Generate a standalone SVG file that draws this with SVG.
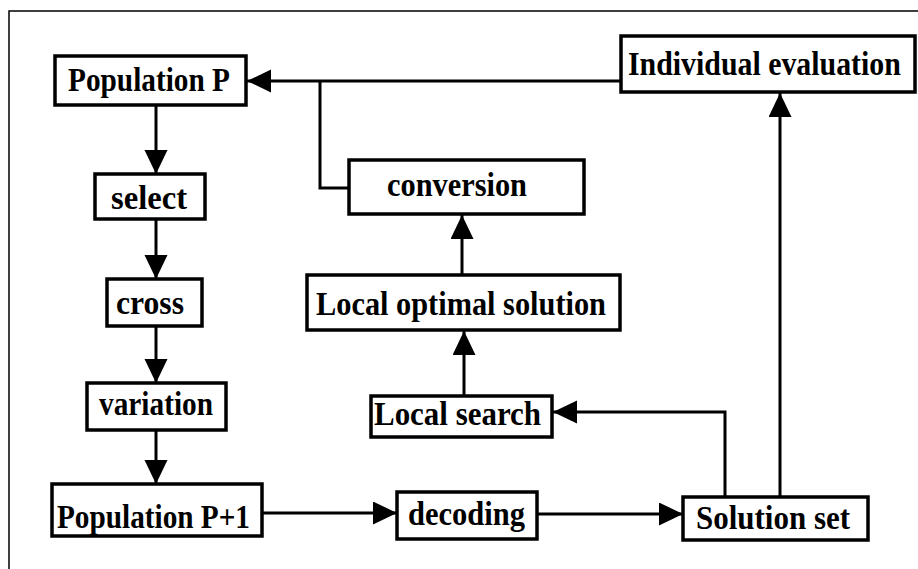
<svg xmlns="http://www.w3.org/2000/svg" width="918" height="569" viewBox="0 0 918 569">
  <style>
    .box { fill: #ffffff; stroke: #000000; stroke-width: 3.5; }
    .lbl { font-family: "Liberation Serif", "Times New Roman", serif; font-weight: bold; font-size: 34px; fill: #000000; }
    .edge { fill: none; stroke: #000000; stroke-width: 3; marker-end: url(#arrow); }
    .plain { fill: none; stroke: #000000; stroke-width: 3; }
    .frame { fill: none; stroke: #000000; stroke-width: 1.5; }
  </style>
  <defs>
    <marker id="arrow" markerUnits="userSpaceOnUse" markerWidth="26" markerHeight="24" refX="24" refY="11.5" orient="auto">
      <path d="M0,0 L24,11.5 L0,23 Z" fill="#000000"/>
    </marker>
  </defs>
  <rect width="918" height="569" fill="#ffffff"/>
  <path class="frame" d="M918,11 H9 V569"/>

  <g id="connectors">
    <path class="edge" d="M621,81 H247"/>
    <path class="plain" d="M320,81 V188 H349"/>
    <path class="edge" d="M156,105 V174"/>
    <path class="edge" d="M156,219 V279"/>
    <path class="edge" d="M156,326 V383"/>
    <path class="edge" d="M156,430 V484"/>
    <path class="edge" d="M262,513 H397"/>
    <path class="edge" d="M537,514 H683"/>
    <path class="edge" d="M725,497 V412 H553"/>
    <path class="edge" d="M780,497 V93"/>
    <path class="edge" d="M464,396 V331"/>
    <path class="edge" d="M462,275 V215"/>
  </g>

  <g id="population-p">
    <rect class="box" x="55" y="56" width="191" height="49"/>
    <text class="lbl" x="68" y="91" textLength="162" lengthAdjust="spacingAndGlyphs">Population P</text>
  </g>
  <g id="individual-evaluation">
    <rect class="box" x="621" y="36" width="294" height="56"/>
    <!-- condensed horizontally so the label fits inside its box -->
    <text class="lbl" transform="translate(628,75) scale(0.878,1)" x="0" y="0">Individual evaluation</text>
  </g>
  <g id="conversion">
    <rect class="box" x="349" y="160" width="235" height="54"/>
    <text class="lbl" x="387" y="196" textLength="140" lengthAdjust="spacingAndGlyphs">conversion</text>
  </g>
  <g id="select">
    <rect class="box" x="95" y="174" width="110" height="45"/>
    <text class="lbl" x="111" y="209" textLength="76" lengthAdjust="spacingAndGlyphs">select</text>
  </g>
  <g id="cross">
    <rect class="box" x="107" y="279" width="95" height="47"/>
    <text class="lbl" x="116" y="314" textLength="68" lengthAdjust="spacingAndGlyphs">cross</text>
  </g>
  <g id="local-optimal-solution">
    <rect class="box" x="307" y="275" width="313" height="55"/>
    <text class="lbl" x="316" y="315" textLength="290" lengthAdjust="spacingAndGlyphs">Local optimal solution</text>
  </g>
  <g id="variation">
    <rect class="box" x="87" y="383" width="139" height="47"/>
    <text class="lbl" x="99" y="415" textLength="114" lengthAdjust="spacingAndGlyphs">variation</text>
  </g>
  <g id="local-search">
    <rect class="box" x="371" y="396" width="181" height="41"/>
    <text class="lbl" x="374" y="425" textLength="167" lengthAdjust="spacingAndGlyphs">Local search</text>
  </g>
  <g id="population-p1">
    <rect class="box" x="52" y="484" width="210" height="52"/>
    <text class="lbl" x="57" y="528" textLength="193" lengthAdjust="spacingAndGlyphs">Population P+1</text>
  </g>
  <g id="decoding">
    <rect class="box" x="397" y="492" width="140" height="47"/>
    <text class="lbl" x="408" y="525" textLength="117" lengthAdjust="spacingAndGlyphs">decoding</text>
  </g>
  <g id="solution-set">
    <rect class="box" x="683" y="497" width="185" height="43"/>
    <text class="lbl" x="696" y="529" textLength="154" lengthAdjust="spacingAndGlyphs">Solution set</text>
  </g>
</svg>
